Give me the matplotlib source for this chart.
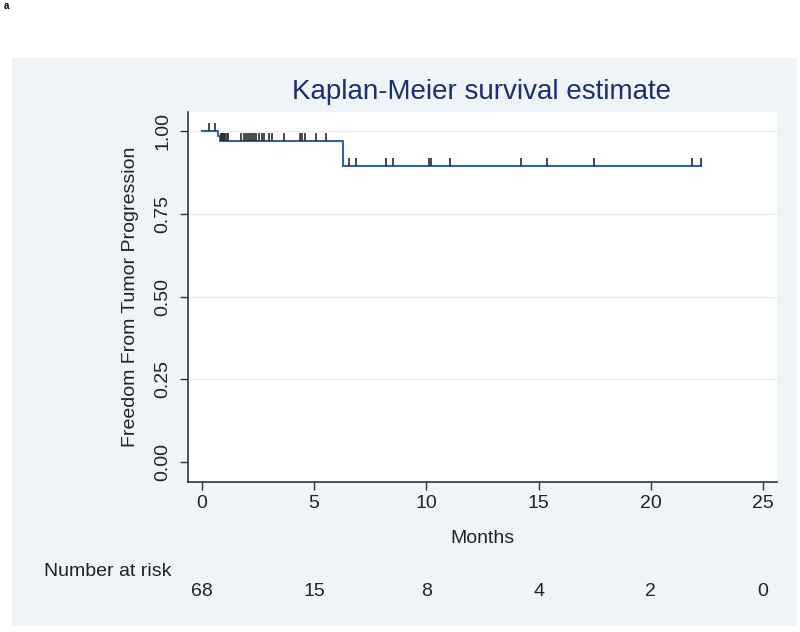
"""Kaplan-Meier curve, Stata look"""

import matplotlib.pyplot as plt
import numpy as np
from matplotlib.patches import Rectangle

plt.rcParams['font.family'] = ['Liberation Sans', 'DejaVu Sans']

# step function of the estimate (time where the level starts, level)
step_times = [0.0, 0.71, 0.80, 6.30]
step_surv = [1.0, 0.985, 0.968, 0.893]
end_time = 22.24

# censored observations (months)
censor_times = [0.31, 0.58, 0.85, 0.90, 0.95, 1.00, 1.05, 1.10, 1.15,
                1.74, 1.86, 1.95, 2.04, 2.13, 2.22, 2.31, 2.43, 2.54, 2.66,
                2.78, 2.99, 3.13, 3.67, 4.38, 4.47, 4.59, 5.07, 5.51,
                6.57, 6.86, 8.20, 8.53, 10.12, 10.20, 11.05, 14.22, 15.36,
                17.47, 21.85, 22.24]

risk_times = [0, 5, 10, 15, 20, 25]
risk_counts = [68, 15, 8, 4, 2, 0]

fs = 14

fig = plt.figure(figsize=(8, 6.32), dpi=100)

# light blue Stata background panel
fig.patches.append(Rectangle((12 / 800, 1 - 626 / 632), 785 / 800, 568 / 632,
                             transform=fig.transFigure, facecolor='#eef4f7',
                             edgecolor='none', zorder=-5))

ax = fig.add_axes([188 / 800, 1 - 482 / 632, 589 / 800, 370 / 632])
ax.set_facecolor('white')

line_color = '#2f62a6'
xs = step_times + [end_time]
ys = step_surv + [step_surv[-1]]
ax.step(xs, ys, where='post', color=line_color, lw=1.5, zorder=3)

# censor ticks sit on the curve
ct = np.array(censor_times)
idx = np.searchsorted(step_times, ct, side='right') - 1
cs = np.array(step_surv)[idx]
ax.vlines(ct, cs, cs + 0.025, color='#2a2a2a', lw=1.2, zorder=4)

ax.set_xlim(-0.62, 25.62)
ax.set_ylim(-0.06, 1.057)
ax.set_xticks([0, 5, 10, 15, 20, 25])
ax.set_yticks([0, 0.25, 0.5, 0.75, 1.0])
ax.set_yticklabels(['0.00', '0.25', '0.50', '0.75', '1.00'],
                   rotation=90, va='center')
for yv in [0.25, 0.5, 0.75, 1.0]:
    ax.axhline(yv, color='#eeeeee', lw=1, zorder=1)

for side in ['top', 'right']:
    ax.spines[side].set_visible(False)
for side in ['left', 'bottom']:
    ax.spines[side].set_color('#333333')
    ax.spines[side].set_linewidth(1.2)
ax.tick_params(direction='out', length=6, width=1, color='#333333',
               labelsize=fs, labelcolor='#222222')
ax.tick_params(axis='y', pad=6)

ax.set_xlabel('Months', fontsize=fs, color='#222222', labelpad=13)
ax.set_ylabel('Freedom From Tumor Progression', fontsize=fs,
              color='#222222', labelpad=11)

fig.text(482 / 800, 1 - 92 / 632, 'Kaplan-Meier survival estimate',
         fontsize=20, color='#1c2f6e', ha='center', va='center')

# number at risk table
fig.text(44 / 800, 1 - 572 / 632, 'Number at risk', fontsize=fs,
         color='#222222', ha='left', va='center')
for t, n in zip(risk_times, risk_counts):
    ax.annotate(str(n), xy=(t, 1 - 592 / 632),
                xycoords=('data', 'figure fraction'),
                fontsize=fs, color='#222222', ha='center', va='center',
                annotation_clip=False)

fig.text(4 / 800, 1 - 6 / 632, 'a', fontsize=7, fontweight='bold',
         ha='left', va='center')

fig.savefig('out.png', dpi=100)
